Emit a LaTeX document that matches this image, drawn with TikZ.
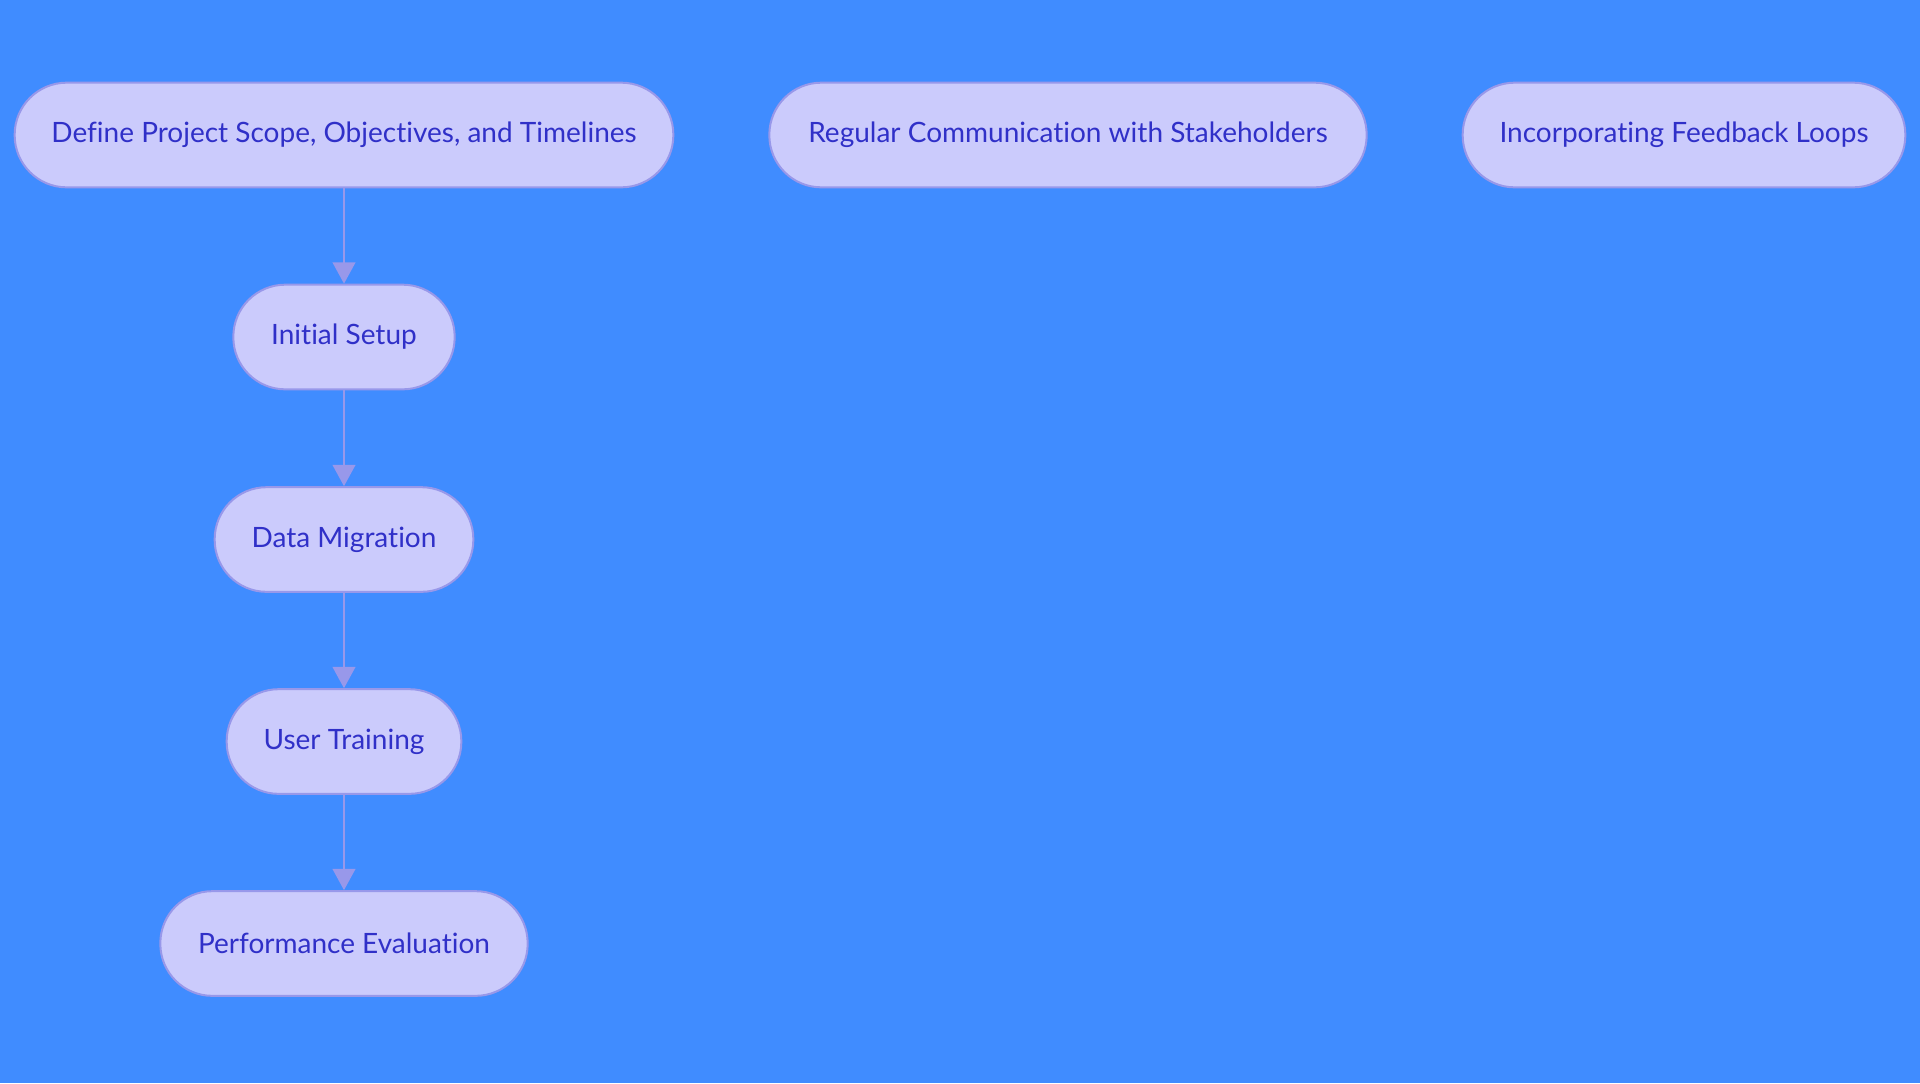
\documentclass[tikz,border=0pt]{standalone}
\usepackage{fontspec}
\setmainfont{Lato}[Ligatures={NoCommon}]
\usetikzlibrary{arrows.meta}

\definecolor{bgblue}{RGB}{64,140,255}
\definecolor{pillfill}{RGB}{203,203,252}
\definecolor{pillline}{RGB}{152,152,234}
\definecolor{pilltext}{RGB}{48,48,200}

\tikzset{
  pill/.style={draw=pillline, fill=pillfill, line width=1.5pt, rounded corners=39pt,
    minimum height=78.5pt, inner sep=0pt, text=pilltext, font=\fontsize{21}{25}\selectfont},
  flow/.style={draw=pillline, line width=1.6pt, -{Triangle[length=16pt,width=17pt]}}
}

\begin{document}
\begin{tikzpicture}[x=0.75pt,y=0.75pt,yscale=-1,xscale=1]
%set diagram left start at 0, and has height of 1083
\path [fill=bgblue] (0,0) rectangle (1920,1083) ;

%Shape: top row
\node [pill, minimum width=494pt] (scope) at (344,135) {Define Project Scope, Objectives, and Timelines};
\node [pill, minimum width=448pt] (comm) at (1068,135) {Regular Communication with Stakeholders};
\node [pill, minimum width=332pt] (feedback) at (1684,135) {Incorporating Feedback Loops};

%Shape: left column
\node [pill, minimum width=166pt] (setup) at (344,337) {Initial Setup};
\node [pill, minimum width=194pt] (migration) at (344,539.5) {Data Migration};
\node [pill, minimum width=176pt] (training) at (344,741.5) {User Training};
\node [pill, minimum width=275.5pt] (evaluation) at (344,943.5) {Performance Evaluation};

%Straight Lines
\draw [flow] (scope) -- (setup) ;
\draw [flow] (setup) -- (migration) ;
\draw [flow] (migration) -- (training) ;
\draw [flow] (training) -- (evaluation) ;

\end{tikzpicture}
\end{document}
